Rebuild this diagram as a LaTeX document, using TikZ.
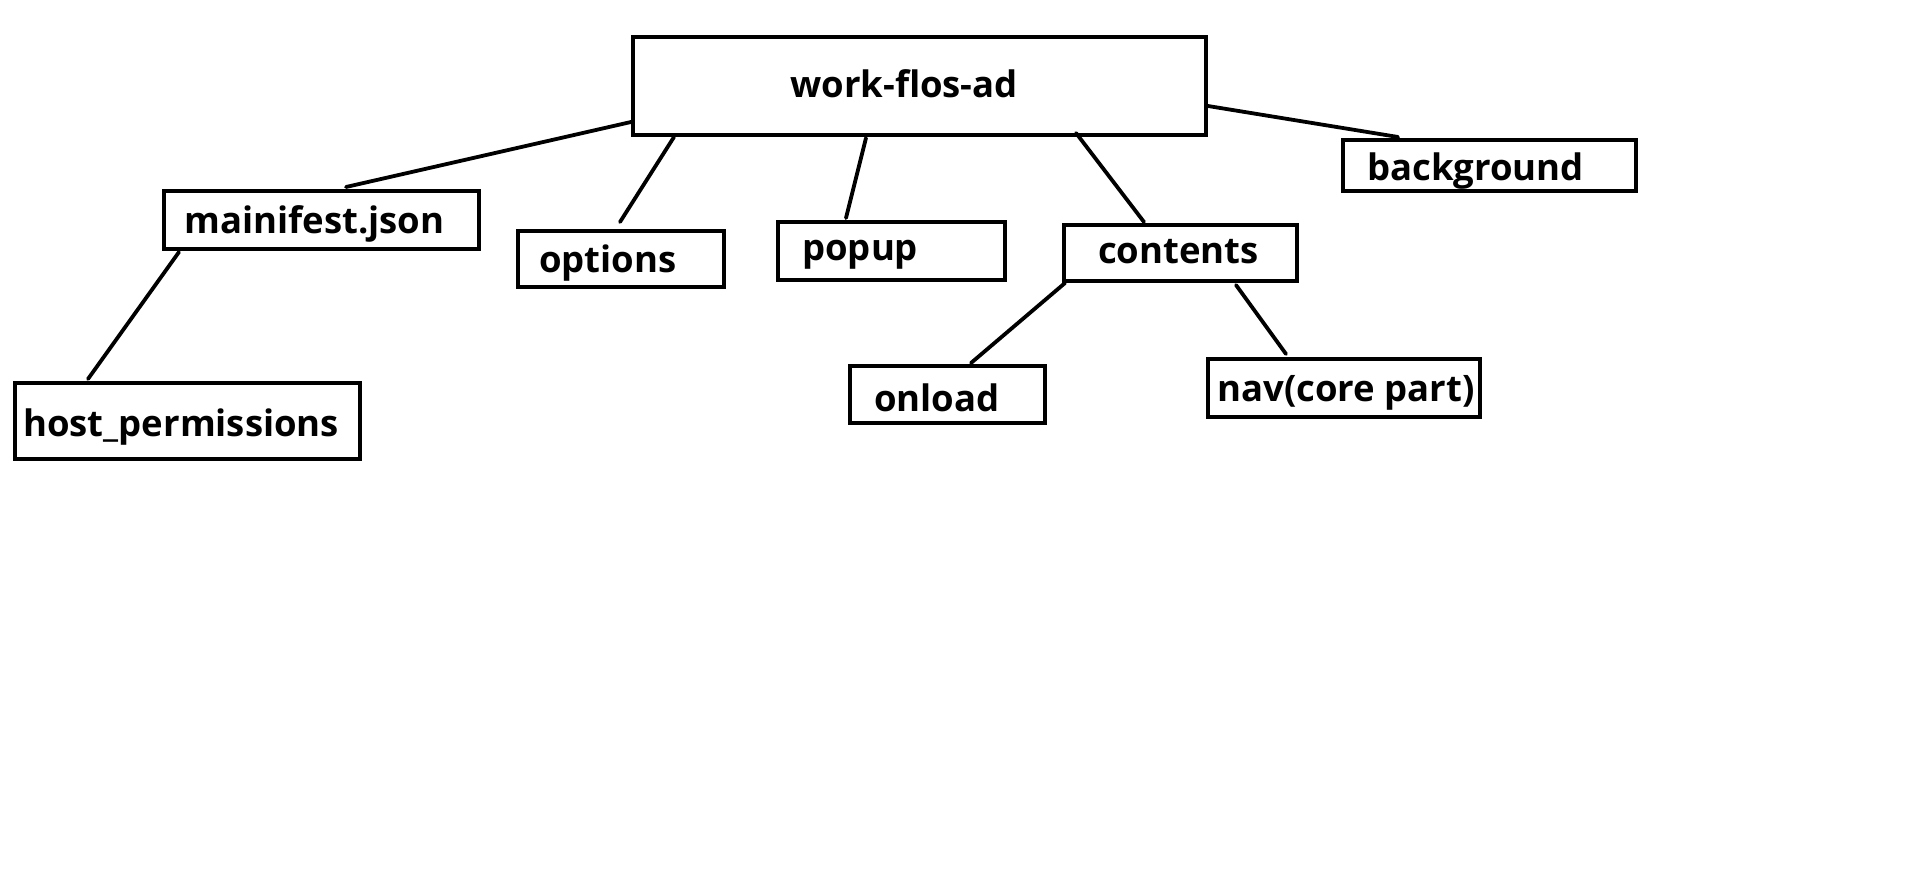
\documentclass[tikz,border=0pt]{standalone}
\usepackage{fontspec}
\setmainfont{Open Sans}
\begin{document}
\begin{tikzpicture}[x=1pt,y=-1pt,
  box/.style={draw=black,line width=4pt,rectangle,inner sep=0pt,outer sep=0pt},
  lbl/.style={anchor=base west,inner sep=0pt,font=\fontsize{36.5}{44}\selectfont\bfseries},
  conn/.style={line width=3.8pt,line cap=round}]
\useasboundingbox (0,0) rectangle (1914,877);
% boxes
\node[box,minimum width=573pt,minimum height=98pt] (top) at (919.5,86) {};
\node[box,minimum width=315pt,minimum height=58pt] (mani) at (321.5,220) {};
\node[box,minimum width=206pt,minimum height=56pt] (opt) at (621,259) {};
\node[box,minimum width=227pt,minimum height=58pt] (pop) at (891.5,251) {};
\node[box,minimum width=345pt,minimum height=76pt] (host) at (187.5,421) {};
\node[box,minimum width=195pt,minimum height=57pt] (onl) at (947.5,394.5) {};
\node[box,minimum width=233pt,minimum height=56pt] (cont) at (1180.5,253) {};
\node[box,minimum width=293pt,minimum height=51pt] (bg) at (1489.5,165.5) {};
\node[box,minimum width=272pt,minimum height=58pt] (nav) at (1344,388) {};
% labels
\node[lbl] (ttop) at (790,98) {work-flos-ad};
\node[lbl] (tmani) at (184,234) {mainifest.json};
\node[lbl] (topt) at (539,273) {options};
\node[lbl] (tpop) at (802,261) {popup};
\node[lbl] (thost) at (23,436) {host\_permissions};
\node[lbl] (tonl) at (874,411) {onload};
\node[lbl] (tcont) at (1098,264) {contents};
\node[lbl] (tbg) at (1367,181) {background};
\node[lbl] (tnav) at (1217,401) {nav(core part)};
% connector end points
\coordinate (a1) at (631,122); \coordinate (a2) at (346,187);
\coordinate (b1) at (674,137); \coordinate (b2) at (620,222);
\coordinate (c1) at (866,138); \coordinate (c2) at (846,218);
\coordinate (d1) at (1076,133); \coordinate (d2) at (1144,222);
\coordinate (e1) at (1208,106); \coordinate (e2) at (1398,137);
\coordinate (f1) at (179,252); \coordinate (f2) at (88,379);
\coordinate (g1) at (1065,283); \coordinate (g2) at (971,363);
\coordinate (h1) at (1236,285); \coordinate (h2) at (1286,354);
\draw[conn] (a1) -- (a2);
\draw[conn] (b1) -- (b2);
\draw[conn] (c1) -- (c2);
\draw[conn] (d1) -- (d2);
\draw[conn] (e1) -- (e2);
\draw[conn] (f1) -- (f2);
\draw[conn] (g1) -- (g2);
\draw[conn] (h1) -- (h2);
\end{tikzpicture}
\end{document}
